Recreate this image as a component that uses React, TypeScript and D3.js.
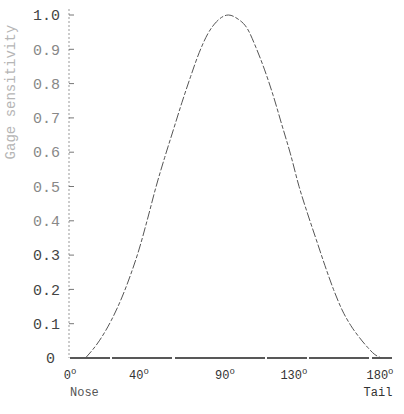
import React from "react";
import * as d3 from "d3";

// angle from the nose (degrees) and gage sensitivity
const angles = [9, 17, 24, 30, 35, 40, 45, 50, 55, 60, 65, 70, 75, 80, 85, 92, 97, 103, 108, 113, 118, 123, 128, 133, 138, 143, 148, 153, 158, 163, 168, 173, 177, 181];
const sensitivity = [0, 0.05, 0.11, 0.175, 0.24, 0.315, 0.405, 0.5, 0.585, 0.665, 0.745, 0.82, 0.89, 0.945, 0.98, 1.0, 0.99, 0.96, 0.905, 0.84, 0.765, 0.68, 0.595, 0.5, 0.42, 0.345, 0.27, 0.2, 0.14, 0.095, 0.06, 0.03, 0.01, 0];

const yTicks = [0, 0.1, 0.2, 0.3, 0.4, 0.5, 0.6, 0.7, 0.8, 0.9, 1.0];
const xTicks = [0, 40, 90, 130, 180];
const xEnds = ["Nose", "Tail"];
const yTitle = "Gage sensitivity";

const W = 404;
const H = 414;
const font = "'Liberation Mono', 'DejaVu Sans Mono', monospace";

export default function App() {
  // scales
  const x = d3.scaleLinear().domain([0, 180]).range([70, 380]);
  const y = d3.scaleLinear().domain([0, 1]).range([358, 15]);

  const pts: [number, number][] = angles.map((a, i) => [a, sensitivity[i]]);
  const line = d3
    .line<[number, number]>()
    .x((d) => x(d[0]))
    .y((d) => y(d[1]))
    .curve(d3.curveMonotoneX);

  const axisX = x(0) - 1;

  return (
    <svg
      width={W}
      height={H}
      viewBox={`0 0 ${W} ${H}`}
      style={{ position: "absolute", left: 0, top: 0, background: "#fff" }}
    >
      {/* y title */}
      <text
        transform={`translate(15,${(y(1) + y(0.55)) / 2}) rotate(-90)`}
        textAnchor="middle"
        fontFamily={font}
        fontSize={14}
        fill="#b5b5b5"
      >
        {yTitle}
      </text>

      {/* y axis */}
      <line x1={axisX} x2={axisX} y1={y(1) - 6} y2={y(0)} stroke="#999" strokeWidth={1} strokeDasharray="2,2" />
      {yTicks.map((t) => (
        <g key={t}>
          {t > 0 && (
            <line x1={axisX} x2={axisX + 5} y1={y(t)} y2={y(t)} stroke="#777" strokeWidth={1} />
          )}
          <text
            x={t === 0 ? 55 : 60}
            y={y(t)}
            dy="0.35em"
            textAnchor="end"
            fontFamily={font}
            fontSize={15}
            fill={t >= 0.4 && t <= 0.9 ? "#888" : "#444"}
          >
            {t === 0 ? "0" : t.toFixed(1)}
          </text>
        </g>
      ))}

      {/* x axis */}
      <line x1={x(0)} x2={x(180) + 12} y1={y(0)} y2={y(0)} stroke="#222" strokeWidth={1.5} strokeDasharray="40,2,60,3,90,2" />
      {xTicks.map((t) => (
        <text key={t} x={x(t)} y={379} textAnchor="middle" fontFamily={font} fontSize={12} fill="#333">
          {t}
          <tspan fontSize={9} dy={-5}>o</tspan>
        </text>
      ))}
      <text x={x(0)} y={396} textAnchor="start" fontFamily={font} fontSize={12} fill="#555">
        {xEnds[0]}
      </text>
      <text x={x(180) - 2} y={396} textAnchor="middle" fontFamily={font} fontSize={12} fill="#333">
        {xEnds[1]}
      </text>

      {/* curve */}
      <path d={line(pts) ?? ""} fill="none" stroke="#555" strokeWidth={1} strokeDasharray="9,2,4,2" />
    </svg>
  );
}
